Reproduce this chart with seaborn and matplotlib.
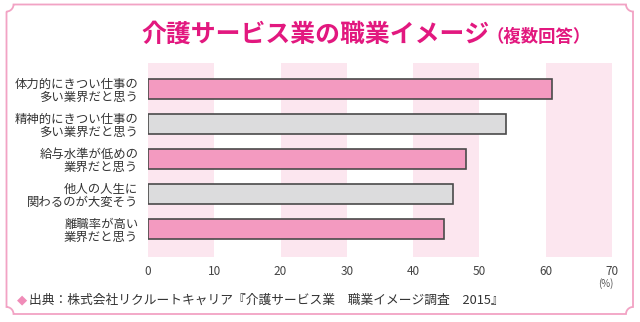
import matplotlib
matplotlib.use("Agg")
import matplotlib.pyplot as plt
from matplotlib.path import Path
from matplotlib.patches import PathPatch
import numpy as np
import pandas as pd
import seaborn as sns

# Survey data: share of respondents (%) per image of the care-service industry
categories = [
    "体力的にきつい仕事の\n多い業界だと思う",
    "精神的にきつい仕事の\n多い業界だと思う",
    "給与水準が低めの\n業界だと思う",
    "他人の人生に\n関わるのが大変そう",
    "離職率が高い\n業界だと思う",
]
values = [61, 54, 48, 46, 44.6]
bar_colors = ["#f39ac0", "#dcdcdd", "#f39ac0", "#dcdcdd", "#f39ac0"]
x_ticks = [0, 10, 20, 30, 40, 50, 60, 70]

title_main = "介護サービス業の職業イメージ"
title_sub = "（複数回答）"
source_text = "出典：株式会社リクルートキャリア『介護サービス業　職業イメージ調査　2015』"

sns.set_theme(style="white")
plt.rcParams["font.family"] = ["Noto Sans CJK JP", "DejaVu Sans"]

W, H = 640, 322
fig = plt.figure(figsize=(W / 100, H / 100), dpi=100)
fig.patch.set_facecolor("white")

ax = fig.add_axes([148 / W, 1 - 257 / H, (612 - 148) / W, (257 - 63) / H])
ax.set_facecolor("white")

# alternating light-pink bands every other 10%
for lo in range(0, 70, 20):
    ax.axvspan(lo, lo + 10, color="#fce6ef", zorder=0, lw=0)

df = pd.DataFrame({"cat": categories, "val": values})
sns.barplot(data=df, x="val", y="cat", hue="cat", palette=bar_colors,
            saturation=1, orient="h", width=0.57, edgecolor="#4a4a4a",
            linewidth=1.2, legend=False, ax=ax, zorder=2)

ax.set_xlim(0, 70)
ax.set_ylim(4.8, -0.743)
ax.set_xticks(x_ticks)
ax.set_xticklabels([str(t) for t in x_ticks], fontsize=8.5, color="#444444")
ax.set_xlabel("")
ax.set_ylabel("")
ax.tick_params(axis="x", length=0, pad=6)
ax.tick_params(axis="y", length=0, pad=7)
for lbl in ax.get_yticklabels():
    lbl.set_fontsize(8.9)
    lbl.set_color("#333333")
    lbl.set_linespacing(1.0)
    lbl.set_horizontalalignment("right")
for s in ax.spines.values():
    s.set_visible(False)

# unit label under the last tick
fig.text(606 / W, 1 - 284 / H, "(%)", fontsize=7, color="#555555",
         ha="center", va="center")

# title
fig.text(141 / W, 1 - 35 / H, title_main, fontsize=17.9, fontweight="bold",
         color="#e2187f", ha="left", va="center")
fig.text(486 / W, 1 - 37 / H, title_sub, fontsize=12.5, fontweight="bold",
         color="#e2187f", ha="left", va="center")

# source line with pink diamond marker
fig.text(17 / W, 1 - 300 / H, "◆", fontsize=9.5, color="#f08cb8",
         ha="left", va="center", family=["DejaVu Sans"])
fig.text(29 / W, 1 - 300 / H, source_text, fontsize=9.2, color="#333333",
         ha="left", va="center")

# pink frame with concave corners
x0, x1, y0, y1, r = 6.5, 633, 4.5, 314, 7


def px(x, y):
    return (x / W, 1 - y / H)


th = np.linspace(0, np.pi / 2, 12)
pts = []
# top-left
pts += [(x0 + r * np.sin(t), y0 + r * np.cos(t)) for t in th]
# top-right
pts += [(x1 - r * np.cos(t), y0 + r * np.sin(t)) for t in th]
# bottom-right
pts += [(x1 - r * np.sin(t), y1 - r * np.cos(t)) for t in th]
# bottom-left
pts += [(x0 + r * np.cos(t), y1 - r * np.sin(t)) for t in th]
pts.append(pts[0])
verts = [px(x, y) for x, y in pts]
codes = [Path.MOVETO] + [Path.LINETO] * (len(verts) - 1)
frame = PathPatch(Path(verts, codes), transform=fig.transFigure,
                  facecolor="none", edgecolor="#f2a3c4", lw=1.3, zorder=10)
fig.patches.append(frame)

fig.savefig("out.png", dpi=100, facecolor="white")
